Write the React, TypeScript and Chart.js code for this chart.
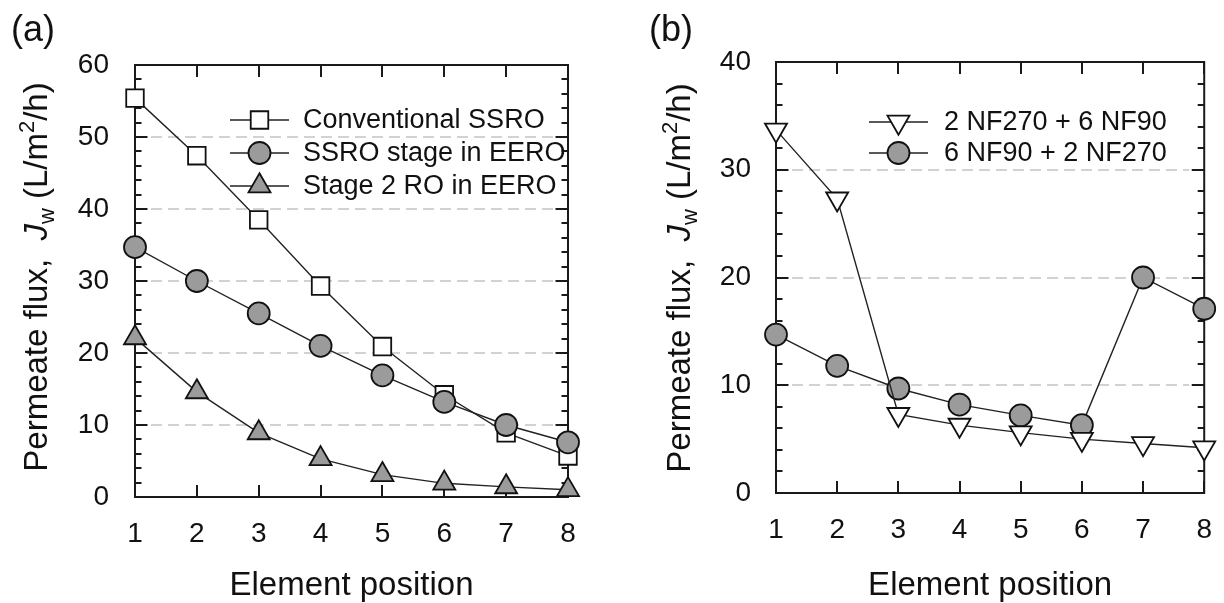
import React, { useEffect, useRef } from 'react';
import { Chart, registerables } from 'chart.js';

Chart.register(...registerables);

// ---------- data ----------
const ELEMENT_POSITIONS = [1, 2, 3, 4, 5, 6, 7, 8];

// Panel (a)
const A_CONVENTIONAL_SSRO = [55.4, 47.4, 38.5, 29.3, 20.9, 14.2, 8.9, 5.7];
const A_SSRO_STAGE_EERO = [34.7, 30.0, 25.5, 21.0, 16.9, 13.2, 10.0, 7.6];
const A_STAGE2_RO_EERO = [22.1, 14.6, 8.9, 5.3, 3.1, 1.9, 1.4, 1.0];
const A_SERIES_LABELS = ['Conventional SSRO', 'SSRO stage in EERO', 'Stage 2 RO in EERO'];
const A_Y_MAX = 60;

// Panel (b)
const B_2NF270_6NF90 = [33.7, 27.3, 7.3, 6.3, 5.6, 5.0, 4.6, 4.2];
const B_6NF90_2NF270 = [14.7, 11.8, 9.7, 8.2, 7.2, 6.3, 20.0, 17.1];
const B_SERIES_LABELS = ['2 NF270 + 6 NF90', '6 NF90 + 2 NF270'];
const B_Y_MAX = 40;

const Y_MINOR_STEP = 2;
const Y_MAJOR_STEP = 10;
const X_TITLE = 'Element position';

// ---------- styles ----------
const FONT = "'Liberation Sans', Arial, Helvetica, sans-serif";
const LINE_COLOR = '#222222';
const FRAME_COLOR = '#1a1a1a';
const GREY = '#9b9b9b';
const WHITE = '#ffffff';

type MarkerKind = 'rect' | 'circle' | 'triangle' | 'triangleDown';

function toPoints(values: number[]) {
  return ELEMENT_POSITIONS.map((x, i) => ({ x, y: values[i] }));
}

function drawMarker(ctx: CanvasRenderingContext2D, kind: MarkerKind, x: number, y: number, r: number, fill: string) {
  ctx.beginPath();
  if (kind === 'rect') {
    const s = Math.SQRT1_2 * r;
    ctx.rect(x - s, y - s, 2 * s, 2 * s);
  } else if (kind === 'circle') {
    ctx.arc(x, y, r, 0, Math.PI * 2);
  } else {
    const rot = kind === 'triangleDown' ? Math.PI : 0;
    for (let k = 0; k < 3; k++) {
      const a = rot + (k * 2 * Math.PI) / 3;
      const px = x + Math.sin(a) * r;
      const py = y - Math.cos(a) * r;
      if (k === 0) ctx.moveTo(px, py);
      else ctx.lineTo(px, py);
    }
    ctx.closePath();
  }
  ctx.fillStyle = fill;
  ctx.fill();
  ctx.lineWidth = 1.8;
  ctx.strokeStyle = '#111111';
  ctx.stroke();
}

interface SeriesSpec {
  label: string;
  values: number[];
  marker: MarkerKind;
  radius: number;
  fill: string;
  order: number;
}

interface PanelSpec {
  id: string;
  tag: string;
  yMax: number;
  series: SeriesSpec[];
  area: { left: number; right: number; top: number; bottom: number };
  yTickPad: number;
  tagX: number;
  yTitleX: number;
  yTitleCY: number;
  legend: { lineX0: number; lineX1: number; textX: number; rows: number[] };
}

function makeDecor(p: PanelSpec) {
  return {
    id: 'decor_' + p.id,
    beforeDatasetsDraw(chart: any) {
      const { ctx, chartArea } = chart;
      const { left, right, top, bottom } = chartArea;
      const xs = chart.scales.x;
      const ys = chart.scales.y;
      ctx.save();
      // dashed grid lines at inner major values
      ctx.strokeStyle = '#d2d2d2';
      ctx.lineWidth = 2;
      ctx.setLineDash([11, 6]);
      ys.ticks.forEach((t: any) => {
        const v = t.value;
        if (v % Y_MAJOR_STEP === 0 && v > ys.min && v < ys.max) {
          const py = Math.round(ys.getPixelForValue(v));
          ctx.beginPath();
          ctx.moveTo(left + 16, py);
          ctx.lineTo(right - 15, py);
          ctx.stroke();
        }
      });
      ctx.setLineDash([]);
      // inward ticks
      ctx.strokeStyle = FRAME_COLOR;
      ctx.lineWidth = 2;
      ys.ticks.forEach((t: any) => {
        const v = t.value;
        const py = Math.round(ys.getPixelForValue(v));
        const len = v % Y_MAJOR_STEP === 0 ? 12.5 : 6.5;
        ctx.beginPath();
        ctx.moveTo(left, py);
        ctx.lineTo(left + len, py);
        ctx.moveTo(right, py);
        ctx.lineTo(right - len, py);
        ctx.stroke();
      });
      xs.ticks.forEach((t: any) => {
        const px = Math.round(xs.getPixelForValue(t.value));
        ctx.beginPath();
        ctx.moveTo(px, bottom);
        ctx.lineTo(px, bottom - 12);
        ctx.moveTo(px, top);
        ctx.lineTo(px, top + 12);
        ctx.stroke();
      });
      // frame
      ctx.strokeRect(left, top, right - left, bottom - top);
      ctx.restore();
    },
    afterDraw(chart: any) {
      const { ctx, chartArea } = chart;
      const { left, right, bottom } = chartArea;
      ctx.save();
      ctx.fillStyle = '#111111';
      // panel tag
      ctx.font = `36px ${FONT}`;
      ctx.textAlign = 'left';
      ctx.textBaseline = 'alphabetic';
      ctx.fillText(p.tag, p.tagX, 41);
      // x title
      ctx.font = `33px ${FONT}`;
      ctx.textAlign = 'center';
      ctx.fillText(X_TITLE, (left + right) / 2, 595);
      // y title (rotated, with italic J, subscript w, superscript 2)
      const pieces = [
        { t: 'Permeate flux,  ', font: `33px ${FONT}`, dy: 0 },
        { t: 'J', font: `italic 33px ${FONT}`, dy: 0 },
        { t: 'w', font: `22px ${FONT}`, dy: 7 },
        { t: ' (L/m', font: `33px ${FONT}`, dy: 0 },
        { t: '2', font: `22px ${FONT}`, dy: -13 },
        { t: '/h)', font: `33px ${FONT}`, dy: 0 },
      ];
      let total = 0;
      const widths = pieces.map((pc) => {
        ctx.font = pc.font;
        const w = ctx.measureText(pc.t).width;
        total += w;
        return w;
      });
      ctx.translate(p.yTitleX, p.yTitleCY);
      ctx.rotate(-Math.PI / 2);
      ctx.textAlign = 'left';
      let cx = -total / 2;
      pieces.forEach((pc, i) => {
        ctx.font = pc.font;
        ctx.fillText(pc.t, cx, pc.dy);
        cx += widths[i];
      });
      ctx.setTransform(1, 0, 0, 1, 0, 0);
      // legend
      const lg = p.legend;
      p.series.forEach((s, i) => {
        const ry = lg.rows[i];
        ctx.strokeStyle = LINE_COLOR;
        ctx.lineWidth = 1.5;
        ctx.beginPath();
        ctx.moveTo(lg.lineX0, ry);
        ctx.lineTo(lg.lineX1, ry);
        ctx.stroke();
        drawMarker(ctx, s.marker, (lg.lineX0 + lg.lineX1) / 2, ry, s.radius, s.fill);
        ctx.fillStyle = '#111111';
        ctx.font = `27px ${FONT}`;
        ctx.textAlign = 'left';
        ctx.textBaseline = 'middle';
        ctx.fillText(s.label, lg.textX, ry + 1);
      });
      ctx.restore();
    },
  };
}

function Panel({ spec, offsetX }: { spec: PanelSpec; offsetX: number }) {
  const ref = useRef<HTMLCanvasElement | null>(null);
  useEffect(() => {
    if (!ref.current) return;
    const W = 612;
    const H = 603;
    const a = spec.area;
    const chart = new Chart(ref.current, {
      type: 'line',
      data: {
        datasets: spec.series.map((s) => ({
          label: s.label,
          data: toPoints(s.values),
          borderColor: LINE_COLOR,
          borderWidth: 1.4,
          pointStyle: s.marker === 'triangleDown' ? 'triangle' : s.marker,
          rotation: s.marker === 'triangleDown' ? 180 : 0,
          pointRadius: s.radius,
          pointBackgroundColor: s.fill,
          pointBorderColor: '#111111',
          pointBorderWidth: 1.8,
          tension: 0,
          fill: false,
          clip: false,
          order: s.order,
        })),
      },
      options: {
        responsive: false,
        animation: false,
        events: [],
        layout: { padding: { left: 0, top: a.top, right: W - a.right, bottom: 0 } },
        plugins: { legend: { display: false }, tooltip: { enabled: false }, title: { display: false } },
        scales: {
          x: {
            type: 'linear',
            min: ELEMENT_POSITIONS[0],
            max: ELEMENT_POSITIONS[ELEMENT_POSITIONS.length - 1],
            grid: { display: false },
            border: { display: false },
            ticks: {
              stepSize: 1,
              padding: 12,
              color: '#111111',
              font: { family: FONT, size: 28 },
              maxRotation: 0,
              autoSkip: false,
            },
            afterFit: (scale: any) => {
              scale.height = H - a.bottom;
            },
          },
          y: {
            type: 'linear',
            min: 0,
            max: spec.yMax,
            grid: { display: false },
            border: { display: false },
            ticks: {
              stepSize: Y_MINOR_STEP,
              autoSkip: false,
              padding: spec.yTickPad,
              color: '#111111',
              font: { family: FONT, size: 28 },
              callback: (v: any) => (Number(v) % Y_MAJOR_STEP === 0 ? String(v) : ''),
            },
            afterFit: (scale: any) => {
              scale.width = a.left;
            },
          },
        },
      },
      plugins: [makeDecor(spec)],
    } as any);
    return () => chart.destroy();
  }, [spec]);
  return (
    <canvas
      ref={ref}
      width={612}
      height={603}
      style={{ position: 'absolute', left: offsetX, top: 0, width: 612, height: 603 }}
    />
  );
}

const PANEL_A: PanelSpec = {
  id: 'a',
  tag: '(a)',
  yMax: A_Y_MAX,
  series: [
    { label: A_SERIES_LABELS[0], values: A_CONVENTIONAL_SSRO, marker: 'rect', radius: 12.4, fill: WHITE, order: 3 },
    { label: A_SERIES_LABELS[1], values: A_SSRO_STAGE_EERO, marker: 'circle', radius: 11, fill: GREY, order: 1 },
    { label: A_SERIES_LABELS[2], values: A_STAGE2_RO_EERO, marker: 'triangle', radius: 12.7, fill: GREY, order: 2 },
  ],
  area: { left: 135, right: 568, top: 65, bottom: 497 },
  yTickPad: 18,
  tagX: 11,
  yTitleX: 47,
  yTitleCY: 277,
  legend: { lineX0: 230, lineX1: 289, textX: 303, rows: [120, 153, 186] },
};

const PANEL_B: PanelSpec = {
  id: 'b',
  tag: '(b)',
  yMax: B_Y_MAX,
  series: [
    { label: B_SERIES_LABELS[0], values: B_2NF270_6NF90, marker: 'triangleDown', radius: 12.7, fill: WHITE, order: 1 },
    { label: B_SERIES_LABELS[1], values: B_6NF90_2NF270, marker: 'circle', radius: 11, fill: GREY, order: 2 },
  ],
  area: { left: 164, right: 597, top: 62, bottom: 493 },
  yTickPad: 17,
  tagX: 37,
  yTitleX: 78,
  yTitleCY: 278,
  legend: { lineX0: 257, lineX1: 316, textX: 332, rows: [122, 153] },
};

export default function App() {
  return (
    <div style={{ position: 'absolute', left: 0, top: 0, width: 1224, height: 603, background: '#ffffff' }}>
      <Panel spec={PANEL_A} offsetX={0} />
      <Panel spec={PANEL_B} offsetX={612} />
    </div>
  );
}
